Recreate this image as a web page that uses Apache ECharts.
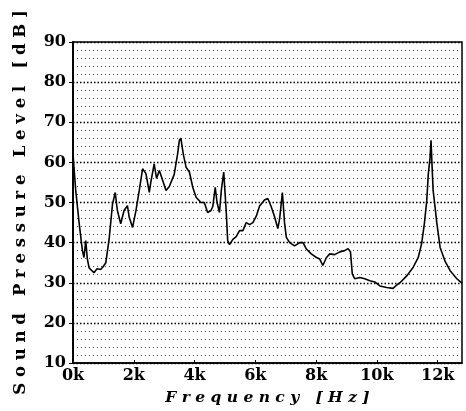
<!DOCTYPE html>
<html>
<head>
<meta charset="utf-8">
<script src="https://cdn.jsdelivr.net/npm/echarts@6/dist/echarts.min.js"></script>
<style>
  html, body { margin: 0; padding: 0; background: #fff; }
  #chart { width: 466px; height: 411px; }
</style>
</head>
<body>
<div id="chart"></div>
<script>
// frequency in kHz, level in dB
const freqKHz = [0, 0.09, 0.2, 0.31, 0.36, 0.42, 0.47, 0.53, 0.69, 0.79, 0.91, 0.99, 1.08,
  1.19, 1.3, 1.39, 1.46, 1.57, 1.68, 1.79, 1.85, 1.96, 2.07, 2.18, 2.29, 2.4, 2.51, 2.56,
  2.67, 2.75, 2.84, 2.93, 3.06, 3.17, 3.33, 3.44, 3.5, 3.55, 3.63, 3.72, 3.83, 3.94, 4.05,
  4.21, 4.32, 4.43, 4.54, 4.6, 4.68, 4.74, 4.82, 4.88, 4.96, 5.04, 5.09, 5.15, 5.26, 5.37,
  5.48, 5.59, 5.7, 5.81, 5.92, 6.03, 6.14, 6.3, 6.41, 6.52, 6.63, 6.74, 6.8, 6.89, 6.96,
  7.02, 7.13, 7.29, 7.46, 7.57, 7.68, 7.84, 8.01, 8.12, 8.22, 8.34, 8.45, 8.61, 8.78, 8.94,
  9.05, 9.13, 9.19, 9.27, 9.44, 9.6, 9.77, 9.93, 10.1, 10.32, 10.53, 10.66, 10.76, 10.98,
  11.19, 11.36, 11.47, 11.56, 11.64, 11.69, 11.75, 11.78, 11.81, 11.85, 11.91, 11.97,
  12.08, 12.24, 12.41, 12.63, 12.8]
const levelDb = [62, 53, 45, 38, 36.3, 40.5, 36, 33.7, 32.5, 33.5, 33.3, 34, 35,
  41, 49.6, 52.5, 48, 44.7, 48, 49.2, 46.3, 43.8, 47.9, 53, 58.4, 57.2, 52.5, 55,
  59.6, 56, 58, 56, 53, 54, 57, 62, 65.5, 66, 62, 58.8, 57.6, 53.8, 51.3,
  50, 50, 47.5, 48, 49, 53.8, 50, 47.5, 53, 57.6, 48, 40.5, 39.5, 40.8, 41.5,
  43, 43, 45, 44.5, 45, 46.6, 49.1, 50.6, 51, 49, 46.5, 43.5, 46, 52.5, 45,
  41.3, 40, 39.2, 40, 40, 38.4, 37.2, 36.3, 35.9, 34.3, 36.3, 37.2, 37, 37.7, 38,
  38.5, 37.7, 32.2, 31, 31.3, 31, 30.5, 30.2, 29.2, 28.8, 28.6, 29.5, 30, 31.7,
  33.8, 36.3, 39.7, 44.6, 50.4, 57, 61.3, 65.5, 60, 53, 49.1, 45,
  38.8, 35.4, 33, 31, 29.9]

const xTitle = 'Frequency [Hz]'
const yTitle = 'Sound Pressure Level [dB]'

// wide letter spacing like the printed original
const spaced = s => s.split('').join(' ')
const font = '"DejaVu Serif", serif'

const chart = echarts.init(document.getElementById('chart'))
chart.setOption({
  animation: false,
  backgroundColor: '#fff',
  grid: {
    left: 73, right: 4, top: 42, bottom: 47,
    show: true, borderColor: '#000', borderWidth: 1.5,
  },
  xAxis: {
    type: 'value',
    min: 0,
    max: 12.8,
    interval: 2,
    name: spaced(xTitle),
    nameLocation: 'middle',
    nameGap: 27,
    nameTextStyle: { fontFamily: font, fontWeight: 'bold', fontStyle: 'italic', fontSize: 15.5, color: '#000' },
    axisLine: { lineStyle: { color: '#000', width: 1.5 } },
    axisTick: { show: true, inside: true, length: 3, lineStyle: { color: '#000' } },
    axisLabel: {
      showMaxLabel: false,
      margin: 5,
      fontFamily: font, fontWeight: 'bold', fontSize: 16, color: '#000',
      formatter: v => v + 'k',
    },
    splitLine: { show: false },
  },
  yAxis: {
    type: 'value',
    min: 10,
    max: 90,
    interval: 10,
    name: spaced(yTitle),
    nameLocation: 'middle',
    nameGap: 44,
    nameTextStyle: { fontFamily: font, fontWeight: 'bold', fontSize: 16.5, color: '#000' },
    axisLine: { show: true, lineStyle: { color: '#000', width: 2 } },
    axisTick: { show: true, length: 4, lineStyle: { color: '#000' } },
    axisLabel: { margin: 7, fontFamily: font, fontWeight: 'bold', fontSize: 16, color: '#000' },
    splitLine: { show: true, lineStyle: { color: '#000', width: 1.3, type: [1.5, 2] } },
    minorTick: { show: false, splitNumber: 5 },
    minorSplitLine: { show: true, lineStyle: { color: '#444', width: 1, type: [1, 3] } },
  },
  series: [
    {
      type: 'line',
      data: freqKHz.map((f, i) => [f, levelDb[i]]),
      showSymbol: false,
      smooth: false,
      lineStyle: { color: '#000', width: 1.6 },
      z: 5,
    },
  ],
})
</script>
</body>
</html>
